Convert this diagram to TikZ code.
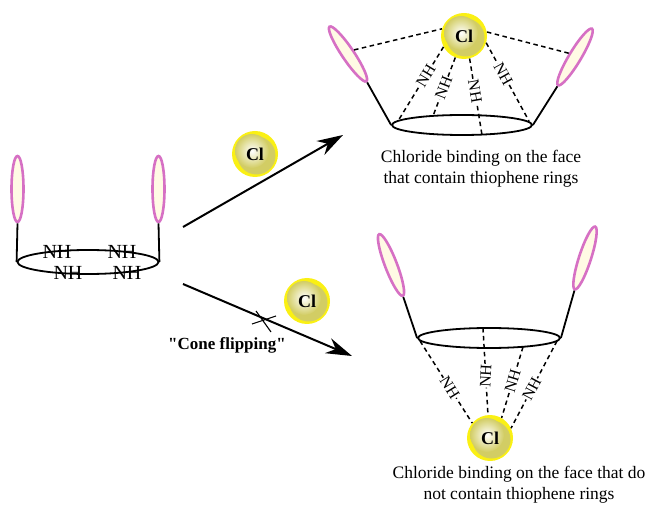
\documentclass[tikz,border=0pt]{standalone}
\usepackage{fontspec}
\setmainfont{Liberation Serif}
\usetikzlibrary{shapes.geometric, arrows.meta}

\definecolor{thiopink}{RGB}{214,112,196}
\definecolor{thiofill}{RGB}{255,250,228}
\definecolor{clrim}{RGB}{250,240,20}
\definecolor{clcore}{RGB}{210,205,100}

\begin{document}
\begin{tikzpicture}[x=1pt, y=-1pt,
    thio/.style={ellipse, draw=thiopink, line width=2.6pt, fill=thiofill, minimum width=66pt, minimum height=12pt, inner sep=0pt},
    ring/.style={ellipse, draw, line width=1.8pt, minimum width=141pt, minimum height=20pt, inner sep=0pt},
    chloride/.style={circle, fill=clrim, minimum size=46pt, inner sep=0pt, font=\fontsize{18}{18}\selectfont\bfseries,
        path picture={
            \fill[clcore] ([shift={(1.5pt,-1.5pt)}]path picture bounding box.center) circle (19pt);
            \shade[inner color=white, outer color=clcore] ([shift={(-3pt,3pt)}]path picture bounding box.center) circle (17pt);}},
    stick/.style={line width=1.8pt},
    hbond/.style={line width=1.5pt, dash pattern=on 4.5pt off 3.5pt},
    nh/.style={fill=white, inner sep=0.3pt, font=\fontsize{16}{16}\selectfont},
    nhbig/.style={inner sep=0pt, font=\fontsize{20}{20}\selectfont},
    caption/.style={align=center, font=\fontsize{17.5}{21}\selectfont},
    react/.style={line width=2pt, -{Stealth[length=26pt, width=16pt]}}
]
    \useasboundingbox (0,0) rectangle (650,510);

    % Free receptor
    \node[thio, rotate=90] (lt1) at (17.5,189) {};
    \node[thio, rotate=90] (rt1) at (158.5,189) {};
    \node[ring, minimum height=24pt] (ring1) at (88,262) {};
    \draw[stick] (lt1.west) -- (ring1.west);
    \draw[stick] (rt1.west) -- (ring1.east);
    \node[nhbig] (nh1) at (57,252) {NH};
    \node[nhbig] (nh2) at (122,252) {NH};
    \node[nhbig] (nh3) at (68,273) {NH};
    \node[nhbig] (nh4) at (127,273) {NH};

    % Incoming chloride
    \node[chloride] (cl1) at (255,154) {Cl};
    \node[chloride] (cl4) at (307,301) {Cl};

    % Reaction arrows
    \coordinate (a1s) at (183,227);
    \coordinate (a1e) at (343,135);
    \coordinate (a2s) at (183,284);
    \coordinate (a2e) at (352,356);
    \draw[react] (a1s) -- (a1e);
    \draw[react] (a2s) -- (a2e);
    \coordinate (xmark) at (265,320);
    \draw[line width=1.1pt] (xmark) +(-9,-9) -- +(6,12) +(-13,4) -- +(11,-4);
    \node[font=\fontsize{17}{17}\selectfont\bfseries] (flip) at (227,345) {\textquotedbl Cone flipping\textquotedbl};

    % Upper complex
    \node[ring, minimum width=140pt] (ring2) at (462,125) {};
    \node[thio, rotate=-56] (lt2) at (348,54) {};
    \node[thio, rotate=-121] (rt2) at (575,57) {};
    \draw[stick] (lt2.east) -- (ring2.west);
    \draw[stick] (rt2.east) -- (ring2.east);
    \node[chloride] (cl2) at (464,36) {Cl};
    \coordinate (u1) at (398,121);
    \coordinate (u2) at (433,116);
    \coordinate (u3) at (482,135);
    \coordinate (u4) at (529,121);
    \draw[hbond] (lt2.north) -- (cl2.162);
    \draw[hbond] (rt2.south) -- (cl2.10);
    \draw[hbond] (cl2.208) -- node[nh, pos=0.39, rotate=59] {NH} (u1);
    \draw[hbond] (cl2.248) -- node[nh, pos=0.52, rotate=69] {NH} (u2);
    \draw[hbond] (cl2.284) -- node[nh, pos=0.43, rotate=-80] {NH} (u3);
    \draw[hbond] (cl2.343) -- node[nh, pos=0.40, rotate=-61] {NH} (u4);
    \node[caption] (cap2) at (481,169) {Chloride binding on the face\\that contain thiophene rings};

    % Lower complex
    \node[ring, minimum width=142pt] (ring3) at (489,338) {};
    \node[thio, rotate=-69] (lt3) at (391,265) {};
    \node[thio, rotate=-108] (rt3) at (585,258) {};
    \draw[stick] (lt3.east) -- (ring3.west);
    \draw[stick] (rt3.east) -- (ring3.east);
    \node[chloride] (cl3) at (490,438) {Cl};
    \coordinate (d1) at (420,341);
    \coordinate (d2) at (483,328);
    \coordinate (d3) at (523,347);
    \coordinate (d4) at (557,341);
    \draw[hbond] (d1) -- node[nh, pos=0.57, rotate=-58] {NH} (cl3.140);
    \draw[hbond] (d2) -- node[nh, pos=0.55, rotate=87] {NH} (cl3.95);
    \draw[hbond] (d3) -- node[nh, pos=0.48, rotate=73] {NH} (cl3.60);
    \draw[hbond] (d4) -- node[nh, pos=0.55, rotate=62] {NH} (cl3.25);
    \node[caption] (cap3) at (519,485) {Chloride binding on the face that do\\not contain thiophene rings};
\end{tikzpicture}
\end{document}
